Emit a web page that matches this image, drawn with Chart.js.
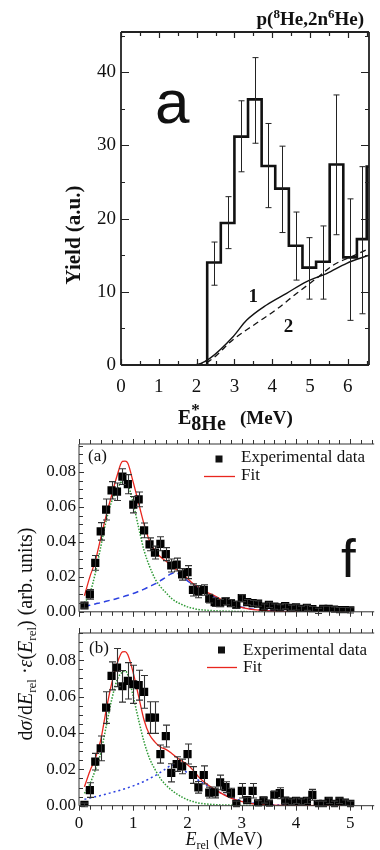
<!DOCTYPE html>
<html>
<head>
<meta charset="utf-8">
<script src="https://cdn.jsdelivr.net/npm/chart.js@4.4.0/dist/chart.umd.min.js"></script>
<style>
  html, body { margin: 0; padding: 0; background: #fff; }
  #wrap { position: relative; width: 380px; height: 850px; overflow: hidden; }
  canvas { position: absolute; left: 0; }
</style>
</head>
<body>
<div id="wrap">
  <canvas id="topChart" width="380" height="440" style="top:0"></canvas>
  <canvas id="panelB" width="380" height="420" style="top:430px"></canvas>
  <canvas id="panelA" width="380" height="195" style="top:430px"></canvas>
</div>
<script>
// ---- top: p(8He,2n6He) yield histogram ----
const binEdges = [2.28, 2.64, 3.00, 3.36, 3.72, 4.08, 4.44, 4.80, 5.16, 5.52, 5.88, 6.24, 6.50];
const binYield = [14.0, 19.4, 31.2, 36.3, 27.2, 24.1, 16.3, 13.3, 14.1, 27.4, 14.7, 17.2, 27.1];
const binErrLow = [10.9, 15.9, 26.4, 30.3, 21.5, 18.1, 11.6, 9.0, 9.0, 17.8, 6.1, 7.0];
const binErrHigh = [16.8, 23.0, 36.1, 42.0, 33.0, 29.9, 20.9, 17.4, 19.0, 36.9, 22.7, 27.1];
const curve1E = [1.91, 2.10, 2.35, 2.97, 3.32, 3.85, 4.38, 4.91, 5.44, 5.97, 6.56];
const curve1Y = [0.0, 0.2, 0.9, 3.9, 6.1, 8.2, 9.8, 11.4, 12.5, 13.9, 15.0];
const curve2E = [2.00, 2.35, 2.97, 3.58, 4.14, 4.65, 5.11, 5.63, 6.10, 6.56];
const curve2Y = [0.0, 0.6, 3.5, 5.7, 7.7, 9.8, 11.6, 13.7, 14.8, 15.9];
const topXTicks = [0, 1, 2, 3, 4, 5, 6];
const topYTicks = [0, 10, 20, 30, 40];

// ---- bottom: d sigma / dErel, panels (a) and (b) ----
const eRel = [0.1, 0.2, 0.3, 0.4, 0.5, 0.6, 0.7, 0.8, 0.9, 1.0,
              1.1, 1.2, 1.3, 1.4, 1.5, 1.6, 1.7, 1.8, 1.9, 2.0,
              2.1, 2.2, 2.3, 2.4, 2.5, 2.6, 2.7, 2.8, 2.9, 3.0,
              3.1, 3.2, 3.3, 3.4, 3.5, 3.6, 3.7, 3.8, 3.9, 4.0,
              4.1, 4.2, 4.3, 4.4, 4.5, 4.6, 4.7, 4.8, 4.9, 5.0];
const dataA = [0.0036, 0.0100, 0.0280, 0.0460, 0.0585, 0.0695, 0.0687, 0.0773, 0.0730, 0.0613,
               0.0643, 0.0466, 0.0386, 0.0339, 0.0389, 0.0330, 0.0265, 0.0270, 0.0214, 0.0227,
               0.0125, 0.0115, 0.0125, 0.0075, 0.0055, 0.0050, 0.0060, 0.0050, 0.0040, 0.0078,
               0.0055, 0.0050, 0.0047, 0.0030, 0.0040, 0.0030, 0.0025, 0.0032, 0.0023, 0.0025,
               0.0017, 0.0023, 0.0015, 0.0005, 0.0017, 0.0017, 0.0013, 0.0010, 0.0010, 0.0008];
const errA = [0.0015, 0.0028, 0.0042, 0.0050, 0.0060, 0.0050, 0.0050, 0.0045, 0.0055, 0.0047,
              0.0042, 0.0042, 0.0037, 0.0037, 0.0040, 0.0037, 0.0037, 0.0037, 0.0033, 0.0037,
              0.0035, 0.0035, 0.0030, 0.0025, 0.0025, 0.0020, 0.0020, 0.0020, 0.0020, 0.0020,
              0.0015, 0.0015, 0.0015, 0.0015, 0.0015, 0.0015, 0.0015, 0.0015, 0.0015, 0.0015,
              0.0015, 0.0015, 0.0015, 0.0015, 0.0015, 0.0015, 0.0015, 0.0015, 0.0015, 0.0015];
const dataB = [0.0004, 0.0086, 0.0242, 0.0315, 0.0540, 0.0714, 0.0760, 0.0657, 0.0687, 0.0668,
               0.0663, 0.0626, 0.0485, 0.0485, 0.0284, 0.0383, 0.0181, 0.0229, 0.0216, 0.0284,
               0.0169, 0.0101, 0.0169, 0.0072, 0.0073, 0.0128, 0.0102, 0.0071, 0.0010, 0.0082,
               0.0031, 0.0082, 0.0013, 0.0029, 0.0012, 0.0060, 0.0069, 0.0028, 0.0022, 0.0027,
               0.0022, 0.0027, 0.0060, 0.0010, 0.0010, 0.0027, 0.0010, 0.0027, 0.0017, 0.0010];
const errB = [0.0010, 0.0040, 0.0046, 0.0068, 0.0087, 0.0077, 0.0105, 0.0087, 0.0100, 0.0105,
              0.0082, 0.0090, 0.0087, 0.0087, 0.0050, 0.0060, 0.0050, 0.0040, 0.0040, 0.0055,
              0.0046, 0.0032, 0.0050, 0.0030, 0.0030, 0.0040, 0.0030, 0.0025, 0.0015, 0.0040,
              0.0015, 0.0040, 0.0015, 0.0015, 0.0015, 0.0020, 0.0030, 0.0015, 0.0015, 0.0015,
              0.0015, 0.0015, 0.0030, 0.0015, 0.0015, 0.0015, 0.0015, 0.0015, 0.0015, 0.0015];

const curveE = [0.1, 0.2, 0.3, 0.4, 0.5, 0.6, 0.7, 0.8, 0.85, 0.9, 1.0, 1.1, 1.2, 1.3, 1.4, 1.5,
                1.6, 1.7, 1.8, 1.9, 2.0, 2.1, 2.2, 2.3, 2.5, 2.8, 3.1, 3.5, 4.0, 4.5, 5.0];
const fitA = [0.0092, 0.0200, 0.0290, 0.0420, 0.0550, 0.0665, 0.0777, 0.0860, 0.0862, 0.0850, 0.0740,
              0.0620, 0.0500, 0.0405, 0.0348, 0.0315, 0.0290, 0.0265, 0.0240, 0.0218, 0.0190,
              0.0162, 0.0140, 0.0120, 0.0092, 0.0042, 0.0018, 0.0005, 0.0001, 0.0, 0.0];
const resA = [0.0050, 0.0106, 0.0220, 0.0370, 0.0520, 0.0630, 0.0700, 0.0750, 0.0755, 0.0730, 0.0620,
              0.0480, 0.0350, 0.0260, 0.0190, 0.0144, 0.0110, 0.0078, 0.0056, 0.0041, 0.0028,
              0.0020, 0.0013, 0.0010, 0.0006, 0.0003, 0.0001, 0.0, 0.0, 0.0, 0.0];
const bgA = [0.0030, 0.0037, 0.0045, 0.0052, 0.0060, 0.0068, 0.0076, 0.0085, 0.0090, 0.0095, 0.0105,
             0.0117, 0.0130, 0.0145, 0.0160, 0.0178, 0.0198, 0.0218, 0.0222, 0.0200, 0.0177,
             0.0157, 0.0138, 0.0120, 0.0085, 0.0045, 0.0020, 0.0007, 0.0002, 0.0, 0.0];
const fitB = [0.0104, 0.0190, 0.0260, 0.0360, 0.0525, 0.0670, 0.0780, 0.0846, 0.0848, 0.0830, 0.0730,
              0.0600, 0.0470, 0.0390, 0.0350, 0.0323, 0.0310, 0.0290, 0.0265, 0.0245, 0.0225,
              0.0196, 0.0160, 0.0132, 0.0090, 0.0042, 0.0016, 0.0004, 0.0001, 0.0, 0.0];
const resB = [0.0068, 0.0120, 0.0196, 0.0290, 0.0435, 0.0580, 0.0690, 0.0735, 0.0740, 0.0720, 0.0600,
              0.0470, 0.0350, 0.0260, 0.0200, 0.0150, 0.0114, 0.0087, 0.0065, 0.0047, 0.0033,
              0.0023, 0.0015, 0.0011, 0.0006, 0.0003, 0.0001, 0.0, 0.0, 0.0, 0.0];
const bgB = [0.0035, 0.0042, 0.0049, 0.0056, 0.0064, 0.0072, 0.0080, 0.0089, 0.0094, 0.0099, 0.0109,
             0.0121, 0.0134, 0.0149, 0.0165, 0.0183, 0.0203, 0.0222, 0.0224, 0.0203, 0.0180,
             0.0159, 0.0140, 0.0122, 0.0087, 0.0046, 0.0020, 0.0007, 0.0002, 0.0, 0.0];
const panelXTicks = [0, 1, 2, 3, 4, 5];
const panelYTicks = [0, 0.02, 0.04, 0.06, 0.08];

const SERIF = "'Liberation Serif', 'Times New Roman', serif";
const SANS = "'Liberation Sans', Arial, sans-serif";
Chart.defaults.font.family = SERIF;
Chart.defaults.color = '#111';

const pts = (xs, ys) => xs.map((x, i) => ({ x: x, y: ys[i] }));
const noGrid = { display: false, drawTicks: false, tickLength: 0 };

// draw a row of text pieces (sub/superscripts) starting at x
function richText(ctx, parts, x, y, align) {
  let w = 0;
  parts.forEach(p => { ctx.font = p.f; p.w = ctx.measureText(p.t).width; if (!p.stack) w += p.w; });
  let cx = align === 'right' ? x - w : align === 'center' ? x - w / 2 : x;
  ctx.textAlign = 'left';
  ctx.textBaseline = 'alphabetic';
  parts.forEach(p => {
    ctx.font = p.f;
    ctx.fillText(p.t, cx, y + (p.dy || 0));
    if (!p.stack) cx += p.w;
  });
}

// frame plus minor/major tick marks
function frameTicks(chart, o) {
  const ctx = chart.ctx, a = chart.chartArea, xs = chart.scales.x, ys = chart.scales.y;
  ctx.save();
  ctx.strokeStyle = o.color;
  ctx.lineWidth = o.frameWidth;
  ctx.beginPath();
  if (o.frame.includes('l')) { ctx.moveTo(a.left, a.top); ctx.lineTo(a.left, a.bottom); }
  if (o.frame.includes('b')) { ctx.moveTo(a.left, a.bottom); ctx.lineTo(a.right, a.bottom); }
  if (o.frame.includes('t')) { ctx.moveTo(a.left, a.top); ctx.lineTo(a.right, a.top); }
  if (o.frame.includes('r')) { ctx.moveTo(a.right, a.top); ctx.lineTo(a.right, a.bottom); }
  ctx.stroke();
  ctx.lineWidth = o.tickWidth;
  ctx.beginPath();
  for (let i = 0; i * o.xMinor <= xs.max + 1e-9; i++) {
    const v = i * o.xMinor;
    const px = Math.round(xs.getPixelForValue(v)) + 0.5;
    const major = Math.abs(v / o.xMajor - Math.round(v / o.xMajor)) < 1e-6;
    const len = major ? o.xMajorLen : o.xMinorLen;
    if (o.ticks.includes('b')) { ctx.moveTo(px, a.bottom); ctx.lineTo(px, a.bottom + o.xDir * len); }
    if (o.ticks.includes('t')) { ctx.moveTo(px, a.top); ctx.lineTo(px, a.top - o.xDir * len); }
  }
  for (let i = 0; i * o.yMinor <= ys.max + 1e-9; i++) {
    const v = i * o.yMinor;
    const py = Math.round(ys.getPixelForValue(v)) + 0.5;
    const major = Math.abs(v / o.yMajor - Math.round(v / o.yMajor)) < 1e-6;
    const len = major ? o.yMajorLen : o.yMinorLen;
    if (o.ticks.includes('l')) { ctx.moveTo(a.left, py); ctx.lineTo(a.left + len, py); }
    if (o.ticks.includes('r')) { ctx.moveTo(a.right, py); ctx.lineTo(a.right - len, py); }
  }
  ctx.stroke();
  ctx.restore();
}

function errorBar(ctx, px, y1, y2, cap) {
  ctx.moveTo(px, y1); ctx.lineTo(px, y2);
  ctx.moveTo(px - cap, y1); ctx.lineTo(px + cap, y1);
  ctx.moveTo(px - cap, y2); ctx.lineTo(px + cap, y2);
}

// ================= top chart =================
const histPoints = [{ x: binEdges[0], y: 0 }].concat(pts(binEdges, binYield));
histPoints.push({ x: binEdges[binEdges.length - 1] + 0.36, y: binYield[binYield.length - 1] });

const topDecor = {
  id: 'topDecor',
  afterDatasetsDraw(chart) {
    const ctx = chart.ctx, xs = chart.scales.x, ys = chart.scales.y;
    ctx.save();
    ctx.strokeStyle = '#222';
    ctx.lineWidth = 1;
    ctx.beginPath();
    binErrLow.forEach((lo, i) => {
      const c = (binEdges[i] + binEdges[i + 1]) / 2;
      const px = Math.round(xs.getPixelForValue(c)) + 0.5;
      errorBar(ctx, px, ys.getPixelForValue(lo), ys.getPixelForValue(binErrHigh[i]), 3);
    });
    ctx.stroke();
    ctx.restore();
  },
  afterDraw(chart) {
    const ctx = chart.ctx, xs = chart.scales.x, ys = chart.scales.y;
    frameTicks(chart, {
      color: '#222', frameWidth: 1.8, tickWidth: 1.2, frame: 'lbtr', ticks: 'lbtr',
      xMinor: 0.5, xMajor: 1, xMajorLen: 6, xMinorLen: 4, xDir: -1,
      yMinor: 5, yMajor: 10, yMajorLen: 8, yMinorLen: 4
    });
    ctx.save();
    ctx.fillStyle = '#111';
    const B = 'bold 19px ' + SERIF, Bs = 'bold 13px ' + SERIF;
    richText(ctx, [{ t: 'p(', f: B }, { t: '8', f: Bs, dy: -7 }, { t: 'He,2n', f: B },
                   { t: '6', f: Bs, dy: -7 }, { t: 'He)', f: B }], 364, 25, 'right');
    const T = 'bold 20px ' + SERIF;
    richText(ctx, [{ t: 'E', f: T }, { t: '*', f: 'bold 17px ' + SERIF, dy: -9, stack: true },
                   { t: '8He', f: T, dy: 6 }, { t: '   (MeV)', f: 'bold 19px ' + SERIF }], 178, 424, 'left');
    ctx.save();
    ctx.translate(80, 235);
    ctx.rotate(-Math.PI / 2);
    richText(ctx, [{ t: 'Yield (a.u.)', f: 'bold 21px ' + SERIF }], 0, 0, 'center');
    ctx.restore();
    ctx.font = 'bold 19px ' + SERIF;
    ctx.textAlign = 'center';
    ctx.textBaseline = 'middle';
    ctx.fillText('1', xs.getPixelForValue(3.5), ys.getPixelForValue(9.3));
    ctx.fillText('2', xs.getPixelForValue(4.43), ys.getPixelForValue(5.2));
    ctx.font = '62px ' + SANS;
    ctx.textAlign = 'left';
    ctx.textBaseline = 'alphabetic';
    ctx.fillText('a', 155, 123);
    ctx.restore();
  }
};

new Chart(document.getElementById('topChart'), {
  type: 'line',
  data: {
    datasets: [
      { data: histPoints, stepped: 'before', borderColor: '#111', borderWidth: 2.6, pointRadius: 0, fill: false },
      { data: pts(curve1E, curve1Y), borderColor: '#111', borderWidth: 1.4, pointRadius: 0,
        cubicInterpolationMode: 'monotone' },
      { data: pts(curve2E, curve2Y), borderColor: '#111', borderWidth: 1.3, borderDash: [6, 4],
        pointRadius: 0, cubicInterpolationMode: 'monotone' }
    ]
  },
  options: {
    responsive: false, animation: false, events: [],
    layout: { padding: { top: 32, right: 11, left: 0, bottom: 0 } },
    plugins: { legend: { display: false }, tooltip: { enabled: false } },
    scales: {
      x: {
        type: 'linear', min: 0, max: 6.56,
        grid: noGrid, border: { display: false },
        afterBuildTicks: s => { s.ticks = topXTicks.map(v => ({ value: v })); },
        ticks: { padding: 11, font: { size: 19 }, color: '#111' },
        afterFit: s => { s.height = 75; }
      },
      y: {
        type: 'linear', min: 0, max: 45.5,
        grid: noGrid, border: { display: false },
        afterBuildTicks: s => { s.ticks = topYTicks.map(v => ({ value: v })); },
        ticks: { padding: 5, font: { size: 19 }, color: '#111' },
        afterFit: s => { s.width = 121; }
      }
    }
  },
  plugins: [topDecor]
});

// ================= bottom panels =================
function makePanel(id, cfg) {
  const decor = {
    id: 'panelDecor' + id,
    afterDatasetsDraw(chart) {
      const ctx = chart.ctx, xs = chart.scales.x, ys = chart.scales.y;
      ctx.save();
      ctx.strokeStyle = '#333';
      ctx.lineWidth = 1.1;
      ctx.beginPath();
      eRel.forEach((e, i) => {
        const px = Math.round(xs.getPixelForValue(e)) + 0.5;
        errorBar(ctx, px, ys.getPixelForValue(cfg.values[i] - cfg.errors[i]),
                 ys.getPixelForValue(cfg.values[i] + cfg.errors[i]), 3.5);
      });
      ctx.stroke();
      ctx.restore();
    },
    afterDraw(chart) {
      const ctx = chart.ctx;
      frameTicks(chart, {
        color: '#333', frameWidth: 1, tickWidth: 1, frame: 'lbt', ticks: 'lbt',
        xMinor: 0.2, xMajor: 1, xMajorLen: 5, xMinorLen: 4, xDir: 1,
        yMinor: 0.005, yMajor: 0.02, yMajorLen: 5, yMinorLen: 4
      });
      ctx.save();
      ctx.fillStyle = '#111';
      const L = cfg.legend;
      ctx.font = '17px ' + SERIF;
      ctx.textAlign = 'left';
      ctx.textBaseline = 'alphabetic';
      ctx.fillText(cfg.tag, L.tagX, L.tagY);
      ctx.fillRect(L.sqX - 3.5, L.sqY - 3.5, 7, 7);
      ctx.fillText('Experimental data', L.textX, L.textY);
      ctx.fillText('Fit', L.textX, L.fitY);
      ctx.strokeStyle = '#e8261e';
      ctx.lineWidth = 1.3;
      ctx.beginPath();
      ctx.moveTo(L.lineX0, L.lineY);
      ctx.lineTo(L.lineX1, L.lineY);
      ctx.stroke();
      if (cfg.extra) cfg.extra(ctx, chart);
      ctx.restore();
    }
  };
  return new Chart(document.getElementById(id), {
    type: 'line',
    data: {
      datasets: [
        { data: pts(eRel, cfg.values), showLine: false, pointStyle: 'rect', pointRadius: 5.8,
          backgroundColor: '#000', borderColor: '#000', borderWidth: 0 },
        { data: pts(curveE, cfg.fit), borderColor: '#e8261e', borderWidth: 1.3, pointRadius: 0,
          cubicInterpolationMode: 'monotone' },
        { data: pts(curveE, cfg.res), borderColor: '#2e9a35', borderWidth: 1.5, borderDash: [1.5, 1.5],
          pointRadius: 0, cubicInterpolationMode: 'monotone' },
        { data: pts(curveE, cfg.bg), borderColor: '#2b40e0', borderWidth: 1.5, borderDash: cfg.bgDash,
          pointRadius: 0, cubicInterpolationMode: 'monotone' }
      ]
    },
    options: {
      responsive: false, animation: false, events: [],
      layout: { padding: { top: cfg.padTop, right: 0, left: 0, bottom: 0 } },
      plugins: { legend: { display: false }, tooltip: { enabled: false } },
      scales: {
        x: {
          type: 'linear', min: 0, max: 5.44,
          grid: noGrid, border: { display: false },
          afterBuildTicks: s => { s.ticks = panelXTicks.map(v => ({ value: v })); },
          ticks: { display: cfg.xLabels, padding: 8, font: { size: 17 }, color: '#111' },
          afterFit: s => { s.height = cfg.xHeight; }
        },
        y: {
          type: 'linear', min: 0, max: cfg.yMax,
          grid: noGrid, border: { display: false },
          afterBuildTicks: s => { s.ticks = panelYTicks.map(v => ({ value: v })); },
          ticks: { padding: 3, font: { size: 17 }, color: '#111', callback: v => v.toFixed(2) },
          afterFit: s => { s.width = 79; }
        }
      }
    },
    plugins: [decor]
  });
}

makePanel('panelA', {
  values: dataA, errors: errA, fit: fitA, res: resA, bg: bgA, bgDash: [6, 4],
  padTop: 14, xHeight: 9.3, yMax: 0.096, xLabels: false, tag: '(a)',
  legend: { tagX: 88, tagY: 31, sqX: 219, sqY: 29, textX: 241, textY: 32, fitY: 50,
            lineX0: 204, lineX1: 235, lineY: 46.5 },
  extra: ctx => {
    ctx.font = '53px ' + SANS;
    ctx.fillText('f', 341, 147);
  }
});

makePanel('panelB', {
  values: dataB, errors: errB, fit: fitB, res: resB, bg: bgB, bgDash: [2, 3],
  padTop: 203, xHeight: 44.3, yMax: 0.095, xLabels: true, tag: '(b)',
  legend: { tagX: 89, tagY: 223, sqX: 221.5, sqY: 220, textX: 243, textY: 225, fitY: 242,
            lineX0: 207, lineX1: 237, lineY: 237.5 },
  extra: ctx => {
    const R = '18px ' + SERIF, I = 'italic 18px ' + SERIF, S = '12px ' + SERIF;
    richText(ctx, [{ t: 'E', f: I }, { t: 'rel', f: S, dy: 4 }, { t: ' (MeV)', f: R }], 224, 415, 'center');
    const R2 = '20px ' + SERIF, I2 = 'italic 20px ' + SERIF, S2 = '13px ' + SERIF;
    ctx.save();
    ctx.translate(32, 204);
    ctx.rotate(-Math.PI / 2);
    richText(ctx, [{ t: 'd', f: R2 }, { t: 'σ', f: I2 }, { t: '/d', f: R2 }, { t: 'E', f: I2 },
                   { t: 'rel', f: S2, dy: 4 }, { t: ' ·', f: R2 }, { t: 'ε', f: I2 }, { t: '(', f: R2 },
                   { t: 'E', f: I2 }, { t: 'rel', f: S2, dy: 4 }, { t: ') (arb. units)', f: R2 }], 0, 0, 'center');
    ctx.restore();
  }
});
</script>
</body>
</html>
